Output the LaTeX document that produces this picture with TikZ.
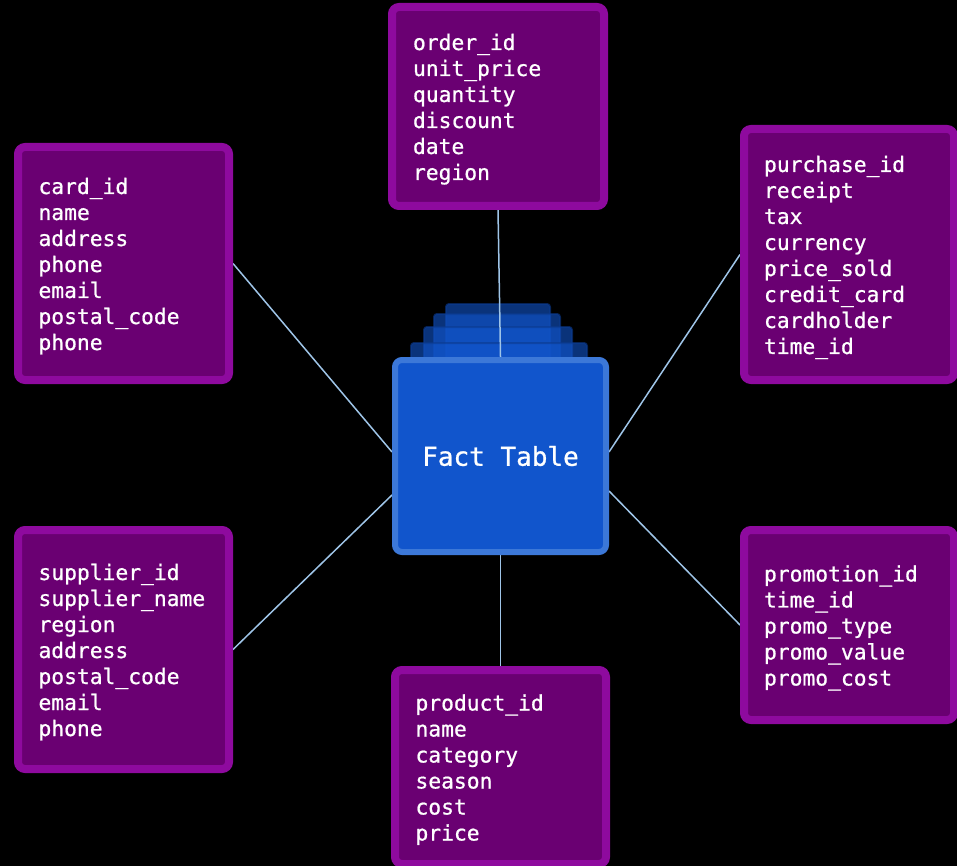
\documentclass[tikz,border=0pt]{standalone}
\usepackage{fontspec}
\setmonofont[FakeBold=0.8]{DejaVu Sans Mono}
\usetikzlibrary{backgrounds,calc}
\definecolor{dimborder}{HTML}{8E0A9E}
\definecolor{dimfill}{HTML}{6A0072}
\definecolor{factfill}{HTML}{1155CC}
\definecolor{factborder}{HTML}{3C78D8}
\definecolor{linkc}{HTML}{9FC5E8}
\definecolor{layeredge}{HTML}{0B3A8F}
\tikzset{
  dimbox/.style={draw=dimborder, fill=dimfill, line width=8pt, rounded corners=7pt,
    align=left, text width=170pt, inner xsep=20pt, inner ysep=0pt, text=white,
    font=\ttfamily\fontsize{21.3pt}{26pt}\selectfont,
    execute at begin node={\rule{0pt}{22pt}},
    execute at end node={\rule[-5pt]{0pt}{5pt}}},
  factbox/.style={draw=factborder, fill=factfill, line width=6pt, rounded corners=7pt,
    text=white, font=\ttfamily\fontsize{26pt}{30pt}\selectfont},
  link/.style={draw=linkc, line width=1.5pt},
  stacklayer/.style={fill=factfill, fill opacity=0.6, draw=layeredge, draw opacity=0.6,
    line width=2pt, rounded corners=3pt}
}
\begin{document}
\begin{tikzpicture}[x=1pt,y=-1pt]
\useasboundingbox (0,0) rectangle (957,866);

\node[dimbox, minimum width=212pt, minimum height=199pt] (order) at (498,106.5)
  {order\_id\\unit\_price\\quantity\\discount\\date\\region};
\node[dimbox, minimum width=211pt, minimum height=233pt] (card) at (123.5,263.5)
  {card\_id\\name\\address\\phone\\email\\postal\_code\\phone};
\node[dimbox, minimum width=208pt, minimum height=251pt] (purchase) at (849,254.5)
  {purchase\_id\\receipt\\tax\\currency\\price\_sold\\credit\_card\\cardholder\\time\_id};
\node[dimbox, minimum width=211pt, minimum height=239pt] (supplier) at (123.5,649.5)
  {supplier\_id\\supplier\_name\\region\\address\\postal\_code\\email\\phone};
\node[dimbox, minimum width=208pt, minimum height=190pt] (promo) at (849,625)
  {promotion\_id\\time\_id\\promo\_type\\promo\_value\\promo\_cost};
\node[dimbox, minimum width=211pt, minimum height=194pt] (product) at (500.5,767)
  {product\_id\\name\\category\\season\\cost\\price};

\node[factbox, minimum width=211pt, minimum height=192pt] (fact) at (500.5,456) {Fact Table};

\begin{pgfonlayer}{background}
  \fill[black] (0,0) rectangle (957,866);
  \path[stacklayer] (446,304) rectangle (550,420);
  \path[stacklayer] (434,314) rectangle (560,420);
  \path[stacklayer] (424,327) rectangle (572,420);
  \path[stacklayer] (411,343) rectangle (587,420);
  \draw[link] (order.south) -- (fact.north);
  \draw[link] (card.east) -- ([yshift=4pt]fact.west);
  \draw[link] (supplier.east) -- ([yshift=-39pt]fact.west);
  \draw[link] (purchase.west) -- ([yshift=4pt]fact.east);
  \draw[link] (promo.west) -- ([yshift=-35pt]fact.east);
  \draw[link] (fact.south) -- (product.north);
\end{pgfonlayer}
\end{tikzpicture}
\end{document}
